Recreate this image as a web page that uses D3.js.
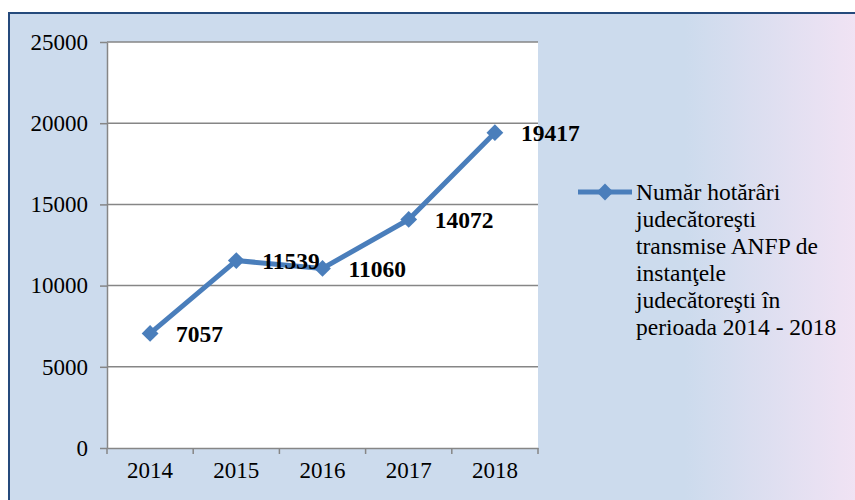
<!DOCTYPE html>
<html lang="ro">
<head>
<meta charset="UTF-8">
<title>Număr hotărâri judecătoreşti</title>
<script src="https://cdn.jsdelivr.net/npm/d3@7"></script>
<style>
  body { margin: 0; background: #fff; }
  text { font-family: "Liberation Serif", "Times New Roman", serif; }
</style>
</head>
<body>
<div id="chart"></div>
<script>
  const years = ['2014', '2015', '2016', '2017', '2018']
  const values = [7057, 11539, 11060, 14072, 19417]
  const yTicks = [0, 5000, 10000, 15000, 20000, 25000]
  const legendLines = ['Număr hotărâri', 'judecătoreşti', 'transmise ANFP de', 'instanţele', 'judecătoreşti în', 'perioada 2014 - 2018']

  const width = 855
  const height = 500
  const plot = { left: 107, right: 538, top: 42, bottom: 448 }
  const blue = '#4a7ebb'

  const svg = d3.select('#chart').append('svg')
    .attr('width', width)
    .attr('height', height)

  const defs = svg.append('defs')
  const grad = defs.append('linearGradient').attr('id', 'bg')
    .attr('x1', '0%').attr('x2', '100%').attr('y1', '0%').attr('y2', '0%')
  grad.append('stop').attr('offset', '0%').attr('stop-color', '#ccdbed')
  grad.append('stop').attr('offset', '79%').attr('stop-color', '#ccdbed')
  grad.append('stop').attr('offset', '100%').attr('stop-color', '#f2e3f4')

  // frame
  svg.append('rect')
    .attr('x', 9).attr('y', 13)
    .attr('width', width).attr('height', height)
    .attr('fill', 'url(#bg)')
    .attr('stroke', '#254a7c')
    .attr('stroke-width', 2)

  // plot area
  svg.append('rect')
    .attr('x', plot.left).attr('y', plot.top)
    .attr('width', plot.right - plot.left).attr('height', plot.bottom - plot.top)
    .attr('fill', '#fff')

  const x = d3.scaleBand().domain(years).range([plot.left, plot.right])
  const y = d3.scaleLinear().domain([0, 25000]).range([plot.bottom, plot.top])

  // gridlines
  svg.append('g')
    .selectAll('line')
    .data(yTicks.slice(1))
    .join('line')
    .attr('x1', plot.left).attr('x2', plot.right)
    .attr('y1', d => y(d)).attr('y2', d => y(d))
    .attr('stroke', '#868686')
    .attr('stroke-width', 1.5)

  // y axis
  const yAxis = svg.append('g')
    .attr('transform', `translate(${plot.left},0)`)
    .call(d3.axisLeft(y).tickValues(yTicks).tickSize(7).tickSizeOuter(0).tickPadding(12).tickFormat(d3.format('d')))
  yAxis.select('.domain').attr('stroke', '#868686').attr('stroke-width', 1.5)
  yAxis.selectAll('.tick line').attr('stroke', '#868686').attr('stroke-width', 1.5)
  yAxis.selectAll('.tick text')
    .attr('font-family', '"Liberation Serif", serif')
    .attr('font-size', 23).attr('fill', '#000')

  // x axis
  const xAxis = svg.append('g')
    .attr('transform', `translate(0,${plot.bottom})`)
    .call(d3.axisBottom(x).tickSize(0).tickPadding(14))
  xAxis.select('.domain').attr('stroke', '#868686').attr('stroke-width', 1.5)
  xAxis.selectAll('.tick text')
    .attr('font-family', '"Liberation Serif", serif')
    .attr('font-size', 23).attr('fill', '#000')
  // category boundary ticks
  const bounds = years.map(d => x(d)).concat([x(years[years.length - 1]) + x.bandwidth()])
  xAxis.selectAll('.bound')
    .data(bounds)
    .join('line')
    .attr('class', 'bound')
    .attr('x1', d => d).attr('x2', d => d)
    .attr('y1', 0).attr('y2', 6)
    .attr('stroke', '#868686')
    .attr('stroke-width', 1.5)

  const cx = d => x(d) + x.bandwidth() / 2
  const pts = years.map((d, i) => [cx(d), y(values[i])])

  const diamond = d3.symbol().type(d3.symbolDiamond2).size(180)

  svg.append('path')
    .datum(pts)
    .attr('d', d3.line())
    .attr('fill', 'none')
    .attr('stroke', blue)
    .attr('stroke-width', 5)
    .attr('stroke-linejoin', 'round')

  svg.append('g')
    .selectAll('path')
    .data(pts)
    .join('path')
    .attr('d', diamond)
    .attr('transform', d => `translate(${d[0]},${d[1]})`)
    .attr('fill', blue)

  svg.append('g')
    .selectAll('text')
    .data(values)
    .join('text')
    .attr('x', (d, i) => pts[i][0] + 26)
    .attr('y', (d, i) => pts[i][1])
    .attr('dy', '0.35em')
    .attr('font-size', 23.5)
    .attr('font-weight', 'bold')
    .attr('fill', '#000')
    .text(d => d)

  // legend
  const lg = svg.append('g').attr('transform', 'translate(578,192)')
  lg.append('line')
    .attr('x1', 0).attr('x2', 54).attr('y1', 0).attr('y2', 0)
    .attr('stroke', blue).attr('stroke-width', 5)
  lg.append('path').attr('d', diamond).attr('transform', 'translate(27,0)').attr('fill', blue)
  lg.append('text')
    .attr('x', 58).attr('y', 0)
    .attr('font-size', 23.5).attr('fill', '#000')
    .selectAll('tspan')
    .data(legendLines)
    .join('tspan')
    .attr('x', 58)
    .attr('y', (d, i) => i * 27)
    .attr('dy', '0.35em')
    .text(d => d)
</script>
</body>
</html>
